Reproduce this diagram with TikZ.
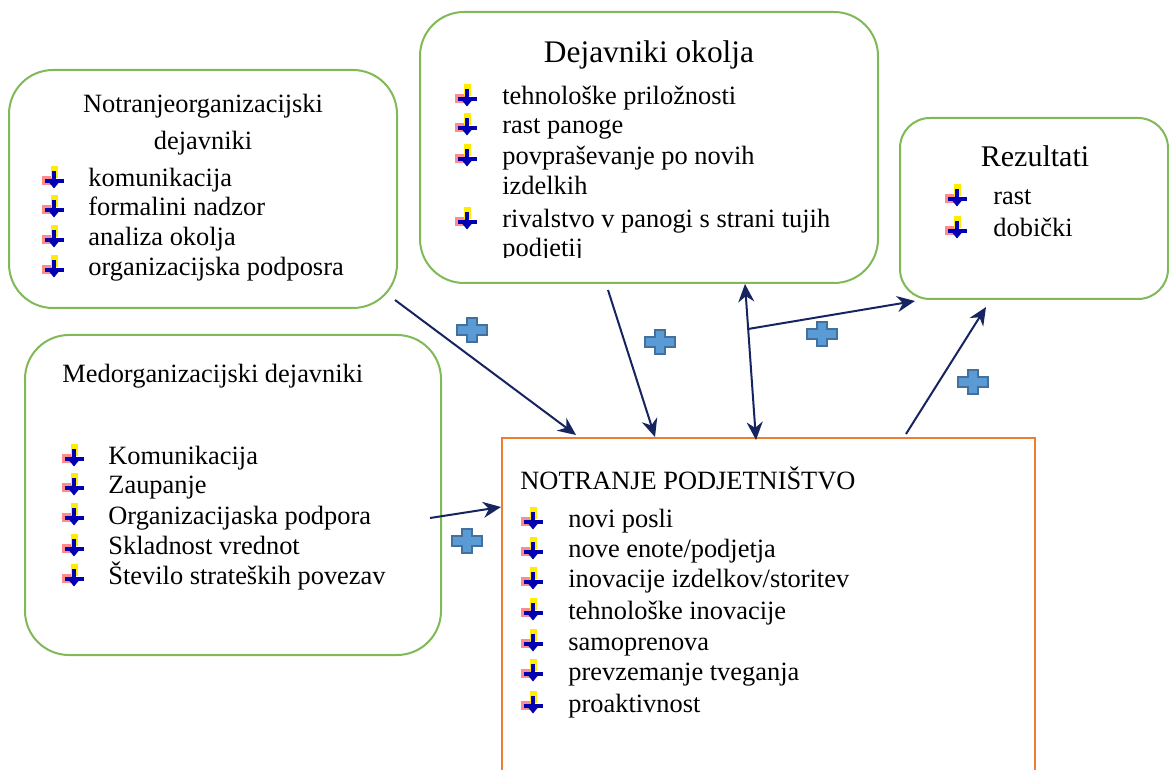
\documentclass[tikz,border=0pt]{standalone}
\usepackage{fontspec}
\setmainfont{Liberation Serif}
\usetikzlibrary{arrows.meta}
\definecolor{gline}{RGB}{128,185,88}
\definecolor{oline}{RGB}{237,125,49}
\definecolor{navy}{RGB}{22,36,96}
\definecolor{pfill}{RGB}{91,155,213}
\definecolor{pdraw}{RGB}{65,113,156}
\tikzset{
  gbox/.style={draw=gline, line width=1pt, rounded corners=22pt, inner sep=0pt},
  obox/.style={draw=oline, line width=1pt, inner sep=0pt},
  txt/.style={anchor=base west, inner sep=0pt, font=\fontsize{13.2}{15}\selectfont},
  ctxt/.style={anchor=base, inner sep=0pt, font=\fontsize{13.2}{15}\selectfont},
  conn/.style={draw=navy, line width=1pt, -{Stealth[length=9pt,width=8pt]}},
  conn2/.style={draw=navy, line width=1pt, {Stealth[length=9pt,width=8pt]}-{Stealth[length=9pt,width=8pt]}},
  bul/.pic={
    \fill[red!45] (0,-11) rectangle (10,-2);
    \fill[yellow!95!orange] (9,-21) rectangle (16,-9);
    \fill[blue!70!black] (3,-8) rectangle (22,-4);
    \fill[blue!70!black] (10,-16) rectangle (14,-2);
    \fill[blue!70!black] (7.5,-4) -- (16.5,-4) -- (12,1.5) -- cycle;
  },
  plussign/.pic={
    \filldraw[fill=pfill, draw=pdraw, line width=0.6pt]
      (-5,-12) -- (5,-12) -- (5,-5) -- (15,-5) -- (15,5) -- (5,5) -- (5,12)
      -- (-5,12) -- (-5,5) -- (-15,5) -- (-15,-5) -- (-5,-5) -- cycle;
  }
}
\begin{document}
\begin{tikzpicture}[x=0.5pt,y=-0.5pt]
\useasboundingbox (0,0) rectangle (1169,770);
\fill[white] (0,0) rectangle (1169,770);

% boxes
\node[gbox, minimum width=194pt, minimum height=119pt] (b1) at (203,189) {};
\node[gbox, minimum width=229pt, minimum height=135.5pt] (b2) at (649,147.5) {};
\node[gbox, rounded corners=15pt, minimum width=134pt, minimum height=90.5pt] (b3) at (1034,208.5) {};
\node[gbox, minimum width=208pt, minimum height=160pt] (b4) at (233,495) {};
\node[obox, minimum width=266.5pt, minimum height=181pt] (np) at (768.5,619) {};

% Box 1
\node[ctxt] (t1a) at (203,113) {Notranjeorganizacijski};
\node[ctxt] (t1b) at (203,150) {dejavniki};
\foreach \y/\t/\n in {187/{komunikacija}/1,216/{formalini nadzor}/2,246/{analiza okolja}/3,276/{organizacijska podposra}/4}{
  \pic at (42,\y) {bul};
  \node[txt] (i1\n) at (88,\y) {\t};
}

% Box 2
\node[anchor=base, inner sep=0pt, font=\fontsize{15.7}{18}\selectfont] (t2) at (649,63) {Dejavniki okolja};
\foreach \y/\t/\n in {105/{tehnološke priložnosti}/1,134/{rast panoge}/2,165/{povpraševanje po novih}/3,228/{rivalstvo v panogi s strani tujih}/4}{
  \pic at (455,\y) {bul};
  \node[txt] (i2\n) at (502,\y) {\t};
}
\node[txt] (i2c) at (502,195) {izdelkih};
\begin{scope}
\clip (420,200) rectangle (878,258);
\node[txt] (i2e) at (502,257) {podjetij};
\end{scope}

% Box 3
\node[anchor=base, inner sep=0pt, font=\fontsize{15}{18}\selectfont] (t3) at (1035,167) {Rezultati};
\foreach \y/\t/\n in {205/{rast}/1,237/{dobički}/2}{
  \pic at (945,\y) {bul};
  \node[txt] (i3\n) at (993,\y) {\t};
}

% Box 4
\node[txt] (t4) at (62,383) {Medorganizacijski dejavniki};
\foreach \y/\t/\n in {465/{Komunikacija}/1,494/{Zaupanje}/2,524/{Organizacijaska podpora}/3,555/{Skladnost vrednot}/4,585/{Število strateških povezav}/5}{
  \pic at (62,\y) {bul};
  \node[txt] (i4\n) at (108,\y) {\t};
}

% Orange box
\node[txt] (t5) at (520,490) {NOTRANJE PODJETNIŠTVO};
\foreach \y/\t/\n in {528/{novi posli}/1,558/{nove enote/podjetja}/2,588/{inovacije izdelkov/storitev}/3,619/{tehnološke inovacije}/4,650/{samoprenova}/5,680/{prevzemanje tveganja}/6,712/{proaktivnost}/7}{
  \pic at (521,\y) {bul};
  \node[txt] (i5\n) at (568,\y) {\t};
}

% connector end points
\coordinate (a1s) at (395,300);
\coordinate (a1e) at (576,435);
\coordinate (a2s) at (608,290);
\coordinate (a2e) at (655,437);
\coordinate (a3s) at (745,284);
\coordinate (a3e) at (756,440);
\coordinate (a4s) at (748,329);
\coordinate (a4e) at (915,301);
\coordinate (a5s) at (906,434);
\coordinate (a5e) at (986,307);
\coordinate (a6s) at (430,518);
\coordinate (a6e) at (501,507);

\draw[conn] (a1s) -- (a1e);
\draw[conn] (a2s) -- (a2e);
\draw[conn2] (a3s) -- (a3e);
\draw[conn] (a4s) -- (a4e);
\draw[conn] (a5s) -- (a5e);
\draw[conn] (a6s) -- (a6e);

% plus signs
\pic at (472,330) {plussign};
\pic at (660,342) {plussign};
\pic at (822,334) {plussign};
\pic at (973,382) {plussign};
\pic at (467,541) {plussign};
\end{tikzpicture}
\end{document}
